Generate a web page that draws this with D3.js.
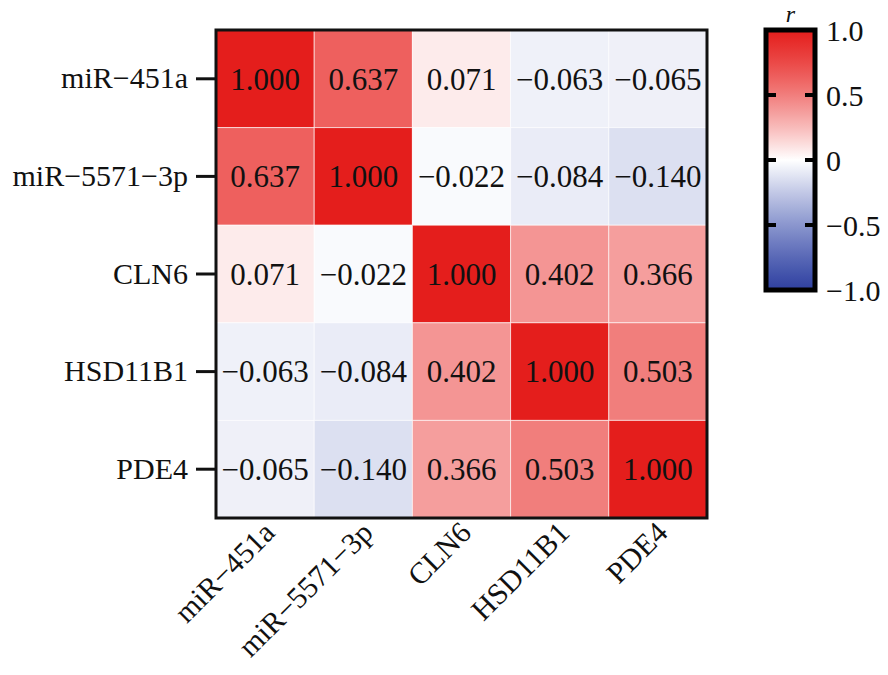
<!DOCTYPE html>
<html>
<head>
<meta charset="utf-8">
<script src="https://cdn.jsdelivr.net/npm/d3@7"></script>
<style>
  html, body { margin: 0; padding: 0; background: #fff; }
  svg { display: block; }
  text { font-family: "Liberation Serif", "Times New Roman", serif; fill: #111; }
</style>
</head>
<body>
<svg id="chart" width="888" height="675"></svg>
<script>
// ---- data ----
const categories = ["miR-451a", "miR-5571-3p", "CLN6", "HSD11B1", "PDE4"];
const rowMiR451a   = [1.000, 0.637, 0.071, -0.063, -0.065];
const rowMiR5571   = [0.637, 1.000, -0.022, -0.084, -0.140];
const rowCLN6      = [0.071, -0.022, 1.000, 0.402, 0.366];
const rowHSD11B1   = [-0.063, -0.084, 0.402, 1.000, 0.503];
const rowPDE4      = [-0.065, -0.140, 0.366, 0.503, 1.000];
const matrix = [rowMiR451a, rowMiR5571, rowCLN6, rowHSD11B1, rowPDE4];
const colorTicks = [1.0, 0.5, 0, -0.5, -1.0];
const colorTickLabels = ["1.0", "0.5", "0", "\u22120.5", "\u22121.0"];
const legendTitle = "r";

// ---- layout ----
const svg = d3.select("#chart");
const plot = { left: 216, right: 707, top: 30, bottom: 518 };

const x = d3.scaleBand().domain(categories).range([plot.left, plot.right]).padding(0);
const y = d3.scaleBand().domain(categories).range([plot.top, plot.bottom]).padding(0);
const color = d3.scaleLinear()
  .domain([-1, 0, 1])
  .range(["#2f40a0", "#ffffff", "#e41e1c"])
  .interpolate(d3.interpolateRgb.gamma(0.7));

const fmt = v => d3.format(".3f")(v).replace("-", "\u2212");
const labelText = s => s.replace(/-/g, "\u2212");

const cells = [];
matrix.forEach((row, i) => row.forEach((v, j) => cells.push({ r: categories[i], c: categories[j], v })));

svg.append("g").selectAll("rect")
  .data(cells).join("rect")
  .attr("x", d => x(d.c))
  .attr("y", d => y(d.r))
  .attr("width", x.bandwidth())
  .attr("height", y.bandwidth())
  .attr("fill", d => color(d.v))
  .attr("stroke", "#ffffff")
  .attr("stroke-opacity", 0.6)
  .attr("stroke-width", 1);

svg.append("g").selectAll("text")
  .data(cells).join("text")
  .attr("x", d => x(d.c) + x.bandwidth() / 2)
  .attr("y", d => y(d.r) + y.bandwidth() / 2)
  .attr("dy", "0.35em")
  .attr("text-anchor", "middle")
  .style("font-size", "31px")
  .text(d => fmt(d.v));

// frame
svg.append("rect")
  .attr("x", plot.left).attr("y", plot.top)
  .attr("width", plot.right - plot.left).attr("height", plot.bottom - plot.top)
  .attr("fill", "none").attr("stroke", "#111").attr("stroke-width", 3);

// y axis
const yAxis = d3.axisLeft(y).tickSize(19).tickPadding(8).tickFormat(labelText);
const gy = svg.append("g").attr("transform", `translate(${plot.left - 1},0)`).call(yAxis);
gy.select(".domain").remove();
gy.selectAll(".tick line").attr("stroke", "#111").attr("stroke-width", 3);
gy.selectAll(".tick text")
  .style("font-size", "30px")
  .style("font-family", "'Liberation Serif', serif")
  .attr("fill", "#111");

// x axis labels (rotated, no tick marks)
const gx = svg.append("g");
gx.selectAll("text")
  .data(categories).join("text")
  .attr("transform", d => `translate(${x(d) + x.bandwidth() / 2 + 4},${plot.bottom + 9}) rotate(-45)`)
  .attr("text-anchor", "end")
  .attr("dy", "0.35em")
  .style("font-size", "30px")
  .text(labelText);

// ---- color bar ----
const cb = { left: 766, right: 815, top: 30, bottom: 290 };
const cbScale = d3.scaleLinear().domain([-1, 1]).range([cb.bottom, cb.top]);

const defs = svg.append("defs");
const grad = defs.append("linearGradient")
  .attr("id", "cbgrad").attr("x1", 0).attr("y1", 1).attr("x2", 0).attr("y2", 0);
grad.selectAll("stop")
  .data(d3.range(0, 41).map(k => -1 + k * 0.05))
  .join("stop")
  .attr("offset", d => (d + 1) / 2)
  .attr("stop-color", d => color(d));

svg.append("rect")
  .attr("x", cb.left).attr("y", cb.top)
  .attr("width", cb.right - cb.left).attr("height", cb.bottom - cb.top)
  .attr("fill", "url(#cbgrad)")
  .attr("stroke", "#000").attr("stroke-width", 5);

const innerTicks = colorTicks.filter(t => Math.abs(t) < 1);
svg.append("g").selectAll("path")
  .data(innerTicks).join("path")
  .attr("d", d => `M${cb.left},${cbScale(d)}h10M${cb.right},${cbScale(d)}h-10`)
  .attr("stroke", "#000").attr("stroke-width", 4);

svg.append("g").selectAll("text")
  .data(colorTicks).join("text")
  .attr("x", cb.right + 11)
  .attr("y", d => cbScale(d))
  .attr("dy", "0.35em")
  .style("font-size", "30px")
  .text((d, i) => colorTickLabels[i]);

svg.append("text")
  .attr("x", (cb.left + cb.right) / 2)
  .attr("y", 22)
  .attr("text-anchor", "middle")
  .style("font-size", "24px")
  .style("font-style", "italic")
  .text(legendTitle);
</script>
</body>
</html>
